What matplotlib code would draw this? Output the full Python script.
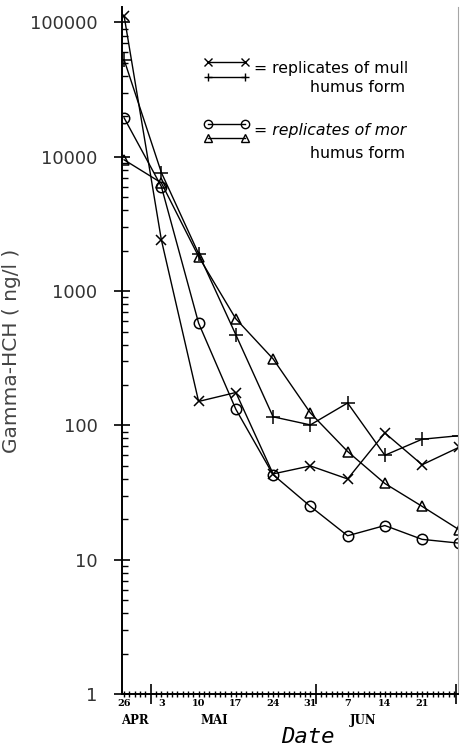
import matplotlib
matplotlib.use("Agg")
import matplotlib.pyplot as plt
from matplotlib.lines import Line2D
from matplotlib.ticker import FixedLocator, FuncFormatter, LogLocator, NullFormatter

# days after 26 April
days = [0, 7, 14, 21, 28, 35, 42, 49, 56, 63]
mull_1 = [112000, 2410, 151, 176, 43.6, 50, 40, 88, 51, 69]
mull_2 = [52800, 7640, 1900, 473, 116, 101, 147, 60, 79, 84]
mor_1 = [19500, 6010, 578, 132, 43, 25, 15.1, 18, 14.2, 13.3]
mor_2 = [9500, 6400, 1810, 622, 313, 124, 64, 37, 25, 16.7]

week_days = [0, 7, 14, 21, 28, 35, 42, 49, 56]
week_labels = ["26", "3", "10", "17", "24", "31", "7", "14", "21"]
month_days = [5, 36, 62.4]
month_names = ["APR", "MAI", "JUN"]
month_label_days = [-0.5, 17, 45]

fig = plt.figure(figsize=(4.61, 7.48), dpi=100)
ax = fig.add_axes([0.264, 0.072, 0.729, 0.919])

ax.plot(days, mull_1, color="black", lw=1, marker="x", ms=7.5, mew=1.1)
ax.plot(days, mull_2, color="black", lw=1, marker="+", ms=9.5, mew=1.1)
ax.plot(days, mor_1, color="black", lw=1, marker="o", ms=7.5, mfc="none", mew=1.1)
ax.plot(days, mor_2, color="black", lw=1, marker="^", ms=7.5, mfc="none", mew=1.1)

ax.set_yscale("log")
ax.set_ylim(1, 131000)
ax.set_xlim(-0.45, 62.7)

ax.spines["top"].set_visible(False)
ax.spines["right"].set_color("0.65")
ax.spines["left"].set_linewidth(1.4)
ax.spines["bottom"].set_linewidth(1.4)

# y axis
ax.yaxis.set_major_locator(LogLocator(base=10, numticks=10))
ax.yaxis.set_minor_locator(LogLocator(base=10, subs=range(2, 10), numticks=20))
ax.yaxis.set_major_formatter(FuncFormatter(lambda v, p: "%d" % round(v)))
ax.yaxis.set_minor_formatter(NullFormatter())
ax.tick_params(axis="y", which="major", direction="inout", length=11, width=1.2,
               pad=12, labelsize=13, labelcolor="#333333")
ax.tick_params(axis="y", which="minor", direction="in", length=4, width=1.0)
ax.tick_params(axis="y", right=False, which="both")

# x axis: long ticks at month boundaries, daily small ticks, week labels
ax.xaxis.set_major_locator(FixedLocator(month_days))
ax.xaxis.set_major_formatter(FuncFormatter(lambda v, p: ""))
ax.xaxis.set_minor_locator(FixedLocator(list(range(0, 63))))
wk = dict(zip(week_days, week_labels))
ax.xaxis.set_minor_formatter(FuncFormatter(lambda v, p: wk.get(int(round(v)), "")))
ax.tick_params(axis="x", which="major", direction="inout", length=14, width=1.2)
ax.tick_params(axis="x", which="minor", direction="inout", length=5, width=1.0,
               pad=1, labelsize=7)
for t in ax.get_xticklabels(minor=True):
    t.set_fontfamily("DejaVu Serif")
    t.set_fontweight("bold")

for d, name in zip(month_label_days, month_names):
    ax.text(d, -0.039, name, transform=ax.get_xaxis_transform(), ha="left" if d < 0 else "center",
            va="center", fontsize=8.5, fontfamily="DejaVu Serif", fontweight="bold")
ax.text(0.555, -0.062, "Date", transform=ax.transAxes, ha="center", va="center",
        fontsize=16, fontfamily="DejaVu Sans Mono", style="italic")

ax.set_ylabel("Gamma-HCH ( ng/l )", fontsize=14.5, color="#444444")
ax.yaxis.set_label_coords(-0.30, 0.50)

# legend drawn by hand, like the original
def fig_xy(px, py):
    return px / 461, 1 - py / 748

rows = [(62, "x"), (77, "+"), (124, "o"), (138, "^")]
for py, m in rows:
    (x0, y0), (x1, _) = fig_xy(208, py), fig_xy(245, py)
    fig.add_artist(Line2D([x0, x1], [y0, y0], color="black", lw=1, marker=m, ms=6,
                          mfc="none", mew=1, transform=fig.transFigure))

for px, py, txt, st in [(254, 69, "= replicates of mull", "normal"),
                        (310, 88, "humus form", "normal"),
                        (254, 130, "= replicates of mor", "italic"),
                        (310, 153, "humus form", "normal")]:
    x, y = fig_xy(px, py)
    fig.text(x, y, txt, ha="left", va="center", fontsize=11.3, style=st)

fig.savefig("out.png", dpi=100)
